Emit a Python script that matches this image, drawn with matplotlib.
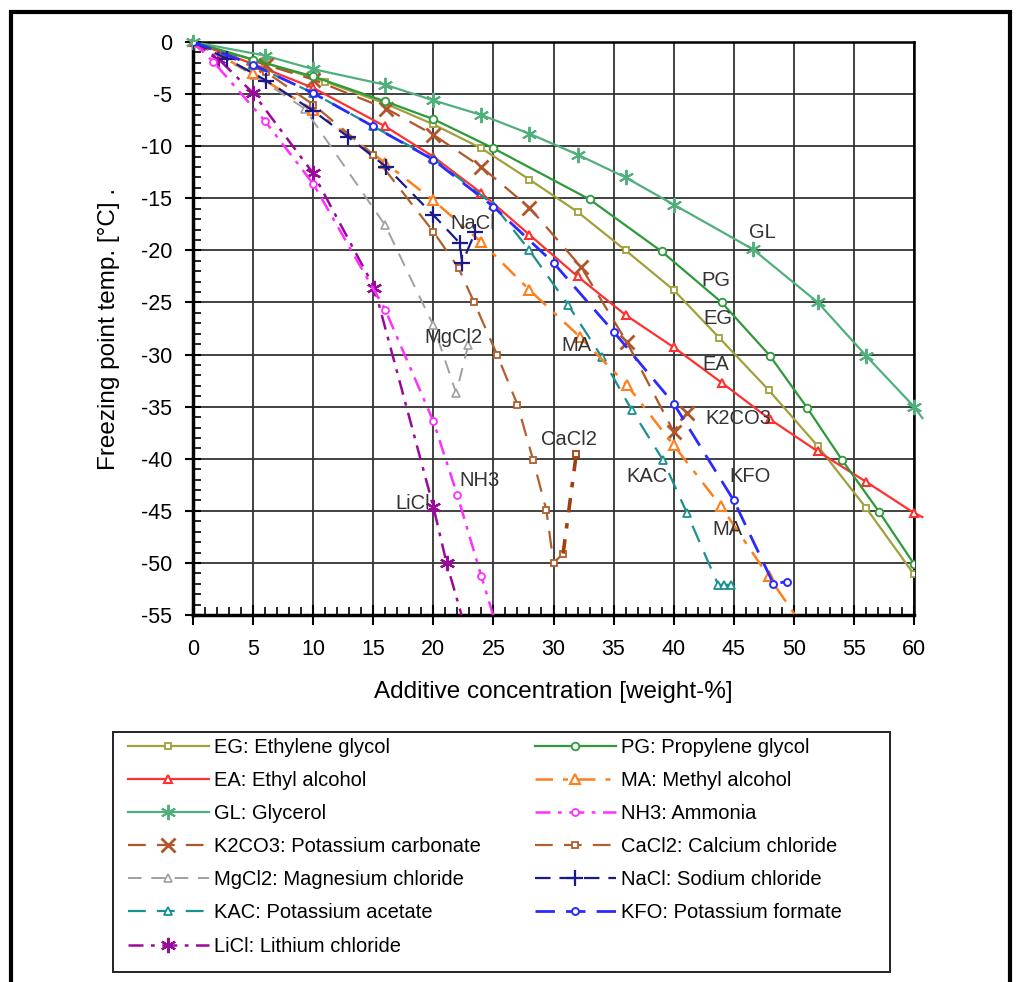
import matplotlib
matplotlib.use("Agg")
import matplotlib.pyplot as plt
from matplotlib.ticker import MultipleLocator
from matplotlib.patches import Rectangle

plt.rcParams['font.family'] = ['Liberation Sans', 'DejaVu Sans']

# ---- data (weight-%, freezing point degC) ----
eg_x = [0, 6, 11, 16, 20, 24, 28, 32, 36, 40, 43.8, 47.9, 52, 56, 60]
eg_y = [0, -2.0, -3.8, -5.9, -7.9, -10.2, -13.2, -16.3, -20.0, -23.8, -28.4, -33.4, -38.8, -44.7, -51.1]
pg_x = [0, 5, 10, 16, 20, 25, 33, 39, 44, 48, 51.1, 54, 57.1, 60]
pg_y = [0, -1.7, -3.3, -5.7, -7.4, -10.2, -15.1, -20.1, -25.0, -30.1, -35.1, -40.1, -45.1, -50.1]
ea_x = [0, 5, 10, 16, 20, 24, 28, 32, 36, 40, 44, 48, 52, 56, 60, 60.7]
ea_y = [0, -2.1, -4.4, -8.1, -11.0, -14.5, -18.5, -22.5, -26.2, -29.3, -32.7, -36.2, -39.3, -42.2, -45.2, -45.6]
ma_x = [0, 5, 10, 16, 20, 24, 28, 32.2, 36.1, 40, 43.9, 47.9, 51]
ma_y = [0, -3.0, -6.5, -11.6, -15.2, -19.2, -23.8, -28.3, -32.9, -38.7, -44.5, -51.3, -56.5]
gl_x = [0, 6, 10, 16, 20, 24, 28, 32, 36, 40, 46.6, 52, 56, 60, 60.7]
gl_y = [0, -1.3, -2.6, -4.1, -5.6, -7.0, -8.8, -10.8, -13.0, -15.6, -19.9, -25.0, -30.1, -35.0, -36.1]
nh3_x = [0, 1.7, 6, 10, 16, 20, 22, 24, 25.5]
nh3_y = [0, -1.9, -7.6, -13.6, -25.7, -36.4, -43.5, -51.3, -57.0]
k2co3_x = [0, 6.1, 10, 16.1, 20, 24, 28, 32.3, 36.1, 40, 41.1]
k2co3_y = [0, -2.2, -3.6, -6.4, -8.9, -12.0, -15.9, -21.6, -28.8, -37.4, -35.6]
cacl2_x = [0, 6.1, 10, 15, 20, 22.1, 23.4, 25.3, 27, 28.3, 29.4, 30.0, 30.8]
cacl2_y = [0, -2.9, -6.0, -10.8, -18.2, -21.7, -25.0, -30.0, -34.8, -40.1, -44.9, -50.0, -49.1]
cacl2_tail_x = [30.8, 31.9]
cacl2_tail_y = [-49.1, -39.5]
mgcl2_x = [0, 5.1, 9.3, 16, 20, 21.9, 22.9]
mgcl2_y = [0, -3.2, -6.4, -17.6, -27.2, -33.7, -29.1]
nacl_x = [0, 2.8, 6.1, 10, 12.9, 16.1, 20, 22.2, 22.4, 23.5]
nacl_y = [0, -1.6, -3.7, -6.6, -9.1, -12.0, -16.6, -19.3, -21.2, -18.2]
kac_x = [0, 5, 10, 15, 20, 25, 28, 31.2, 34, 36.5, 39.1, 41.1, 43.7, 44.2, 44.8]
kac_y = [0, -2.2, -4.9, -8.1, -11.2, -15.6, -20.0, -25.2, -30.2, -35.3, -40.1, -45.2, -52.1, -52.1, -52.1]
kfo_x = [0, 5, 10, 15, 20, 25, 30, 35, 40, 45, 48.3, 49.4]
kfo_y = [0, -2.2, -4.9, -8.1, -11.3, -15.8, -21.2, -27.8, -34.7, -44.0, -52.0, -51.8]
licl_x = [0, 2.1, 5, 10, 15.1, 20, 21.1, 23.1]
licl_y = [0, -1.6, -4.9, -12.6, -23.6, -44.6, -50.0, -58.0]

labels = ["EG: Ethylene glycol", "EA: Ethyl alcohol", "GL: Glycerol",
          "K2CO3: Potassium carbonate", "MgCl2: Magnesium chloride",
          "KAC: Potassium acetate", "LiCl: Lithium chloride",
          "PG: Propylene glycol", "MA: Methyl alcohol", "NH3: Ammonia",
          "CaCl2: Calcium chloride", "NaCl: Sodium chloride",
          "KFO: Potassium formate"]

curve_tags = ["GL", "PG", "EG", "EA", "K2CO3", "KFO", "MA", "KAC", "CaCl2",
              "NH3", "LiCl", "MgCl2", "MA", "NaCl"]
tag_x = [47.35, 43.52, 43.69, 43.52, 45.35, 46.35, 44.44, 37.78, 31.29, 23.88, 18.30, 21.64, 31.95, 23.30]
tag_y = [-18.33, -22.85, -26.49, -31.0, -36.09, -41.75, -46.75, -41.66, -38.11, -42.04, -44.25, -28.32, -29.09, -17.38]

fig = plt.figure(figsize=(10.2, 9.82), dpi=100)
ax = fig.add_axes([0.1892, 0.3737, 0.7069, 0.5835])

specs = [
    (eg_x, eg_y, dict(color="#a0a03c", ls="-", marker="s", ms=5, mfc="white", mew=1.3, lw=1.6)),
    (ea_x, ea_y, dict(color="#ff3030", ls="-", marker="^", ms=6, mfc="white", mew=1.5, lw=1.6,
                      markevery=list(range(len(ea_x) - 1)), clip_on=False)),
    (gl_x, gl_y, dict(color="#4fb07c", ls="-", marker=(6, 2, 0), ms=11, mew=1.4, lw=1.6,
                      markevery=list(range(len(gl_x) - 1)), clip_on=False)),
    (k2co3_x, k2co3_y, dict(color="#b0562a", ls=(0, (8, 5)), marker="x", ms=10, mew=2.0, lw=1.6)),
    (mgcl2_x, mgcl2_y, dict(color="#a0a0a0", ls=(0, (7, 5)), marker="^", ms=6, mfc="white", mew=1.2, lw=1.4)),
    (kac_x, kac_y, dict(color="#1a9090", ls=(0, (8, 5)), marker="^", ms=6, mfc="white", mew=1.3, lw=1.6)),
    (licl_x, licl_y, dict(color="#9a0a9a", ls=(0, (6, 3, 1.5, 3)), marker=(6, 2, 0), ms=11, mew=1.6, lw=1.8)),
    (pg_x, pg_y, dict(color="#2e9a3a", ls="-", marker="o", ms=5.5, mfc="white", mew=1.3, lw=1.6)),
    (ma_x, ma_y, dict(color="#ff7f1e", ls=(0, (7, 4, 2, 4)), marker="^", ms=6.5, mfc="white", mew=1.5, lw=1.8)),
    (nh3_x, nh3_y, dict(color="#ff30ff", ls=(0, (6, 3, 1.5, 3)), marker="o", ms=5, mfc="white", mew=1.3, lw=1.8)),
    (cacl2_x, cacl2_y, dict(color="#b0602e", ls=(0, (8, 5)), marker="s", ms=5, mfc="white", mew=1.3, lw=1.6)),
    (nacl_x, nacl_y, dict(color="#1a1a8c", ls=(0, (7, 4)), marker="+", ms=11, mew=1.6, lw=1.6)),
    (kfo_x, kfo_y, dict(color="#2a2aff", ls=(0, (7, 4)), marker="o", ms=5, mfc="white", mew=1.4, lw=2.0)),
]

handles = []
for (xs, ys, st), lab in zip(specs, labels):
    h, = ax.plot(xs, ys, label=lab, zorder=3, **st)
    handles.append(h)

ax.plot(cacl2_tail_x, cacl2_tail_y, color="#a04010", ls=(0, (4, 3, 1.5, 3)), lw=2.6,
        marker="s", ms=5, mfc="white", mew=1.3, markevery=[1], zorder=3)

for t, xx, yy in zip(curve_tags, tag_x, tag_y):
    ax.text(xx, yy, t, fontsize=14.5, color="#333333", ha="center", va="center", zorder=4)

ax.set_xlim(0, 60)
ax.set_ylim(-55, 0)
ax.xaxis.set_major_locator(MultipleLocator(5))
ax.xaxis.set_minor_locator(MultipleLocator(1))
ax.yaxis.set_minor_locator(MultipleLocator(1))
ax.set_yticks(range(-55, 1, 5))
ax.set_yticklabels([str(v) for v in range(-55, 1, 5)])
ax.grid(True, which="major", color="#333333", lw=1.3)
ax.set_axisbelow(True)
ax.tick_params(axis="x", which="major", labelsize=15.5, length=15, width=1.5, direction="inout", pad=10)
ax.tick_params(axis="y", which="major", labelsize=15.5, length=12, width=1.5, direction="inout", pad=9)
ax.tick_params(axis="both", which="minor", length=6, width=1.2, direction="in")
for s in ["left", "bottom"]:
    ax.spines[s].set_linewidth(2.5)
for s in ["top", "right"]:
    ax.spines[s].set_linewidth(1.8)

ax.set_xlabel("Additive concentration [weight-%]", fontsize=17.5, labelpad=15)
ax.set_ylabel("Freezing point temp. [°C] .", fontsize=17.5, labelpad=15)

common = dict(loc="upper left", fontsize=14.5, handlelength=4.0, handletextpad=0.25,
              labelspacing=0.70, borderpad=0.0, borderaxespad=0.0, frameon=False)
fig.legend(handles=handles[:7], bbox_to_anchor=(128 / 1020, 1 - 738 / 982), **common)
fig.legend(handles=handles[7:], bbox_to_anchor=(535 / 1020, 1 - 738 / 982), **common)

fig.patches.append(Rectangle((113 / 1020, 1 - 972 / 982), 777 / 1020, 240 / 982,
                             transform=fig.transFigure, fill=False, ec="#222222", lw=1.4))
fig.patches.append(Rectangle((11 / 1020, -0.02), 999 / 1020, 1.02 - 12 / 982,
                             transform=fig.transFigure, fill=False, ec="black", lw=3))

fig.savefig("out.png", dpi=100)
